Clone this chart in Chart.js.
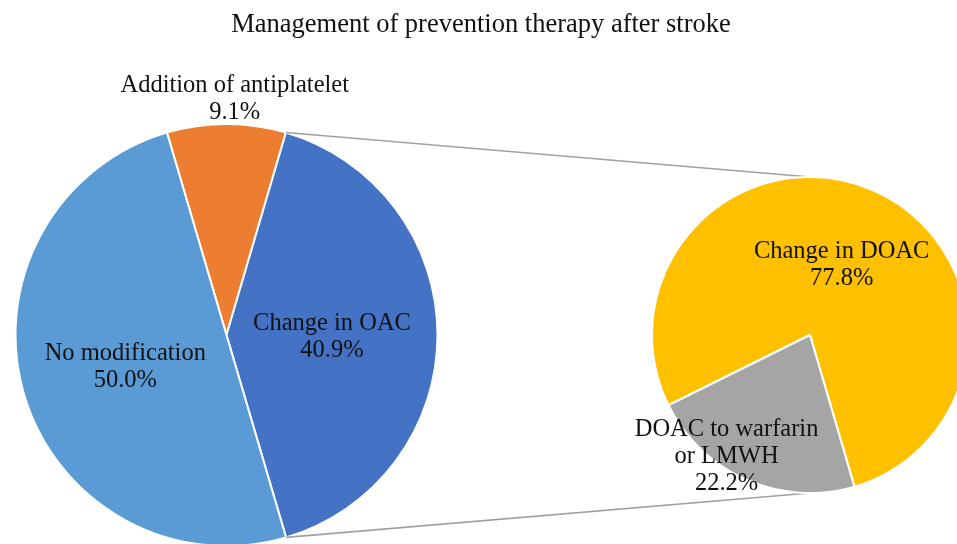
<!DOCTYPE html>
<html>
<head>
<meta charset="utf-8">
<script src="https://cdn.jsdelivr.net/npm/chart.js@4.4.0/dist/chart.umd.min.js"></script>
<style>
html,body{margin:0;padding:0;background:#fff;overflow:hidden}
#wrap{position:relative;width:957px;height:544px}
#wrap canvas{position:absolute;left:0;top:0}
</style>
</head>
<body>
<div id="wrap">
<canvas id="main" width="957" height="544"></canvas>
<canvas id="sub" width="957" height="544"></canvas>
</div>
<script>
const title = 'Management of prevention therapy after stroke'

const mainLabels = ['Addition of antiplatelet', 'Change in OAC', 'No modification']
const mainValues = [9.1, 40.9, 50.0]
const mainColors = ['#ED7D31', '#4472C4', '#5B9BD5']

const subLabels = ['Change in DOAC', ['DOAC to warfarin', 'or LMWH']]
const subValues = [77.8, 22.2]
const subColors = ['#FFC000', '#A5A5A5']

const serif = '"Liberation Serif", "Times New Roman", serif'

// label text for every slice: name lines + percentage, placed along the slice's mid angle
const sliceLabels = {
    id: 'sliceLabels',
    afterDatasetsDraw(chart, args, opts) {
        const ctx = chart.ctx
        const meta = chart.getDatasetMeta(0)
        const vals = chart.data.datasets[0].data
        ctx.save()
        ctx.font = '24.5px ' + serif
        ctx.fillStyle = '#111'
        ctx.textAlign = 'center'
        ctx.textBaseline = 'alphabetic'
        meta.data.forEach((arc, i) => {
            const p = opts.place[i]
            const a = (arc.startAngle + arc.endAngle) / 2 + p[1] * Math.PI / 180
            const r = arc.outerRadius * p[0]
            const cx = arc.x + Math.cos(a) * r
            const cy = arc.y + Math.sin(a) * r
            let lines = chart.data.labels[i]
            lines = Array.isArray(lines) ? lines.slice() : [lines]
            lines.push(vals[i].toFixed(1) + '%')
            const lh = 27
            const y0 = cy - (lines.length - 1) * lh / 2 + 8.6
            lines.forEach((t, k) => ctx.fillText(t, cx, y0 + k * lh))
        })
        ctx.restore()
    }
}

const subChart = new Chart(document.getElementById('sub'), {
    type: 'pie',
    data: {
        labels: subLabels,
        datasets: [{
            data: subValues,
            backgroundColor: subColors,
            borderColor: '#fff',
            borderWidth: 2,
            hoverOffset: 0,
            clip: false
        }]
    },
    options: {
        responsive: false,
        animation: false,
        events: [],
        rotation: 243.6,
        radius: 158,
        layout: {padding: {left: 663, right: 0, top: 188, bottom: 62}},
        plugins: {
            legend: {display: false},
            tooltip: {enabled: false},
            sliceLabels: {place: [[0.5, 0], [0.92, 11.4]]}
        }
    },
    plugins: [sliceLabels]
})

// title + series lines joining the "Change in OAC" slice to the second pie
const connectors = {
    id: 'connectors',
    afterDatasetsDraw(chart) {
        const ctx = chart.ctx
        const arc = chart.getDatasetMeta(0).data[1]
        const sub = subChart.getDatasetMeta(0).data[0]
        const R = arc.outerRadius
        ctx.save()
        ctx.strokeStyle = '#a0a0a0'
        ctx.lineWidth = 1.6
        ctx.beginPath()
        ctx.moveTo(arc.x + Math.cos(arc.startAngle) * R, arc.y + Math.sin(arc.startAngle) * R)
        ctx.lineTo(sub.x, sub.y - sub.outerRadius)
        ctx.moveTo(arc.x + Math.cos(arc.endAngle) * R, arc.y + Math.sin(arc.endAngle) * R)
        ctx.lineTo(sub.x, sub.y + sub.outerRadius)
        ctx.stroke()
        ctx.font = '26.5px ' + serif
        ctx.fillStyle = '#111'
        ctx.textAlign = 'center'
        ctx.fillText(title, 481, 32)
        ctx.restore()
    }
}

const mainChart = new Chart(document.getElementById('main'), {
    type: 'pie',
    data: {
        labels: mainLabels,
        datasets: [{
            data: mainValues,
            backgroundColor: mainColors,
            borderColor: '#fff',
            borderWidth: 2,
            hoverOffset: 0,
            clip: false
        }]
    },
    options: {
        responsive: false,
        animation: false,
        events: [],
        rotation: -16.4,
        radius: 211,
        layout: {padding: {left: 16, right: 520, top: 126, bottom: 0}},
        plugins: {
            legend: {display: false},
            tooltip: {enabled: false},
            sliceLabels: {place: [[1.13, 2], [0.5, 0], [0.5, 0]]}
        }
    },
    plugins: [sliceLabels, connectors]
})
</script>
</body>
</html>
